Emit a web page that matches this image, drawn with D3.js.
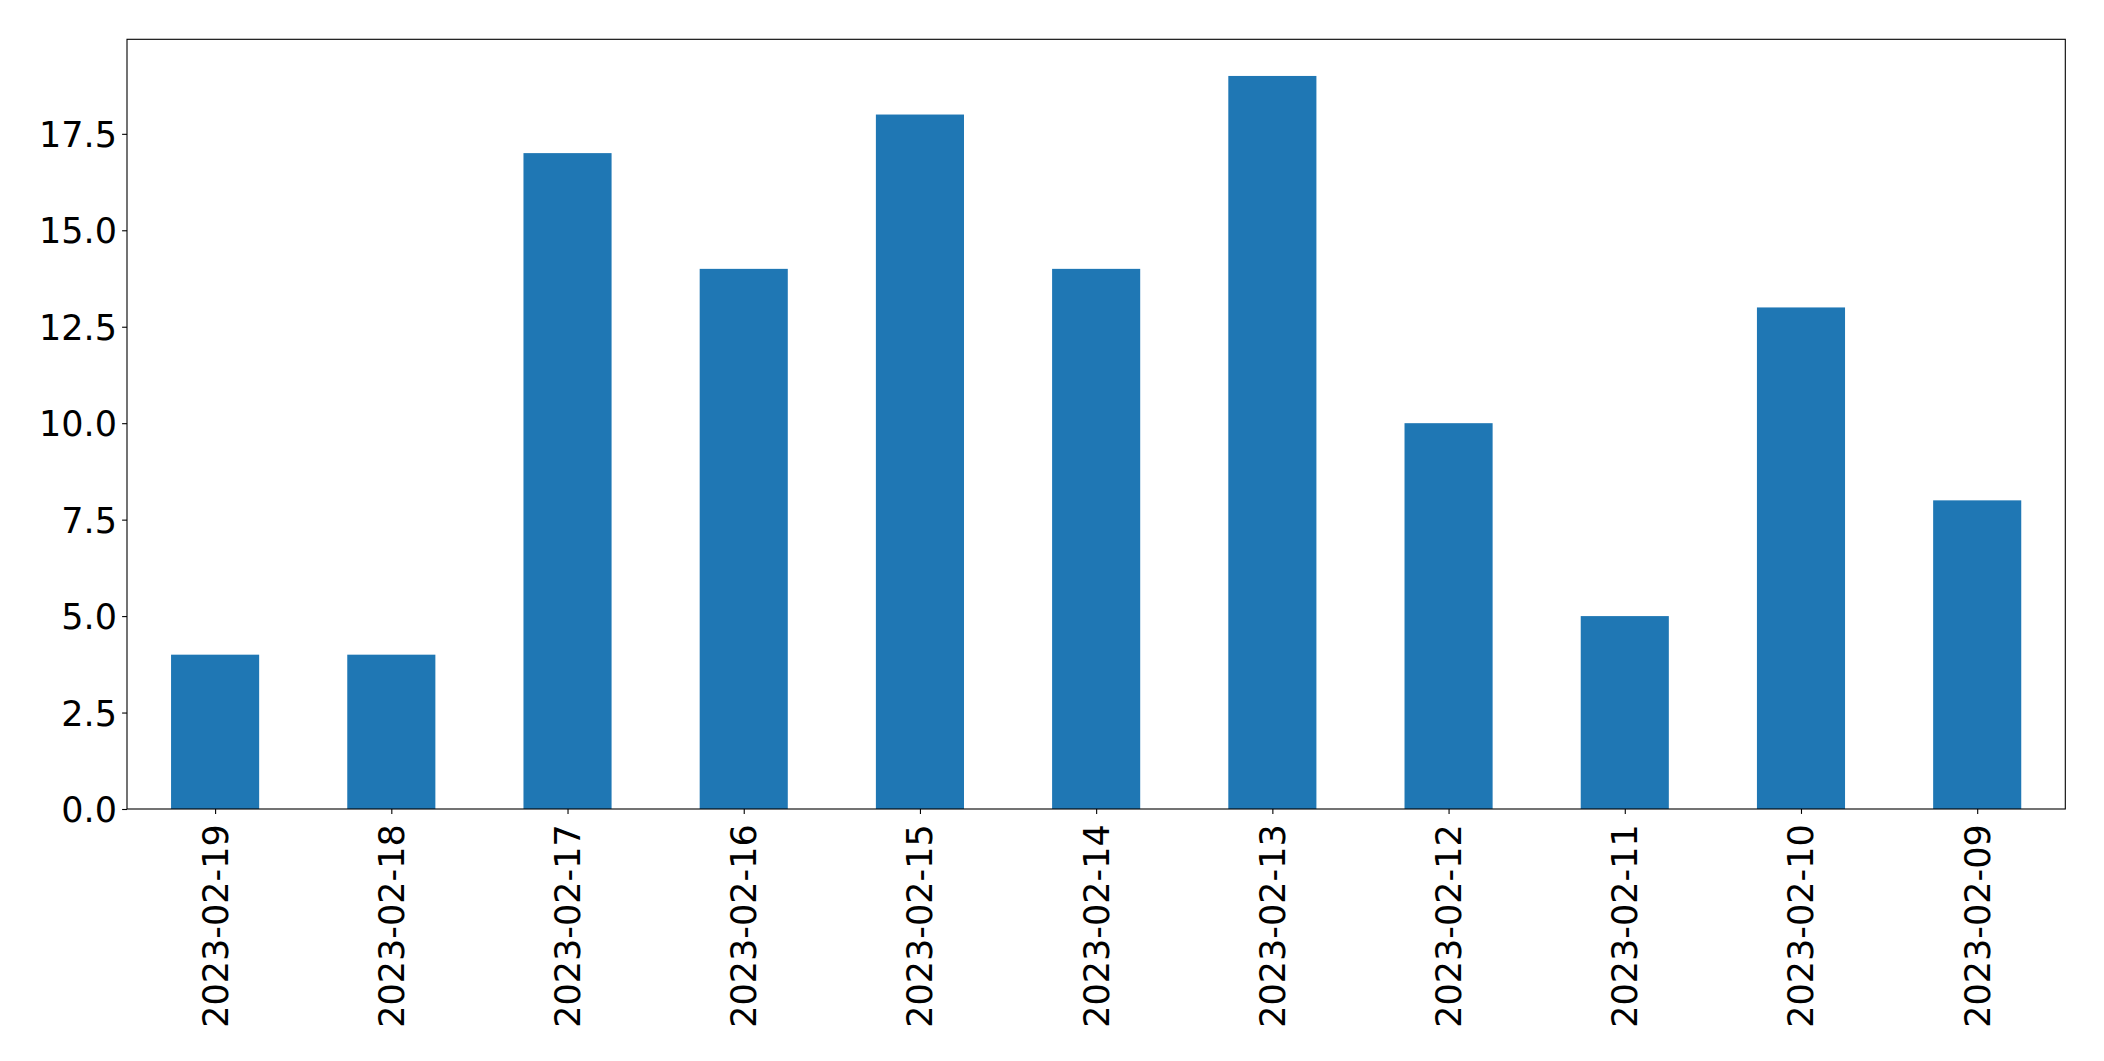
<!DOCTYPE html>
<html><head><meta charset="utf-8">
<script src="https://cdn.jsdelivr.net/npm/d3@7"></script>
<style>html,body{margin:0;padding:0;background:#fff;}svg{display:block;}</style>
</head><body>
<script>
const categories = ["2023-02-19","2023-02-18","2023-02-17","2023-02-16","2023-02-15","2023-02-14","2023-02-13","2023-02-12","2023-02-11","2023-02-10","2023-02-09"];
const values = [4,4,17,14,18,14,19,10,5,13,8];
const yTicks = [0,2.5,5,7.5,10,12.5,15,17.5];

const W = 2104, H = 1061;
const L = 127, R = 2065.3, T = 39.3, B = 809;
const fontSize = 35;

const svg = d3.select("body").append("svg").attr("width", W).attr("height", H);

const x = d3.scaleLinear().domain([-0.5, categories.length - 0.5]).range([L, R]);
const y = d3.scaleLinear().domain([0, 19.95]).range([B, T]);

svg.append("g").selectAll("rect").data(values).join("rect")
  .attr("x", (d,i) => x(i - 0.25))
  .attr("width", (d,i) => x(i + 0.25) - x(i - 0.25))
  .attr("y", d => y(d))
  .attr("height", d => y(0) - y(d))
  .attr("fill", "#1f77b4");

// frame
svg.append("rect").attr("x", L).attr("y", T).attr("width", R - L).attr("height", B - T)
  .attr("fill", "none").attr("stroke", "#000").attr("stroke-width", 1.1);

// y axis
const yAxis = d3.axisLeft(y).tickValues(yTicks).tickFormat(d3.format(".1f")).tickSize(4.9).tickPadding(5.1);
const gy = svg.append("g").attr("transform", `translate(${L},0)`).call(yAxis);
gy.select(".domain").remove();
gy.selectAll(".tick line").attr("stroke", "#000").attr("stroke-width", 1.1);
gy.selectAll(".tick text").attr("font-family", "DejaVu Sans").attr("font-size", fontSize).attr("fill", "#000").attr("dy", "0.36em");

// x axis
const xAxis = d3.axisBottom(x).tickValues(d3.range(categories.length)).tickFormat(i => categories[i]).tickSize(4.9).tickPadding(0);
const gx = svg.append("g").attr("transform", `translate(0,${B})`).call(xAxis);
gx.select(".domain").remove();
gx.selectAll(".tick line").attr("stroke", "#000").attr("stroke-width", 1.1);
gx.selectAll(".tick text")
  .attr("font-family", "DejaVu Sans").attr("font-size", fontSize).attr("fill", "#000")
  .attr("text-anchor", "end").attr("dy", null).attr("y", null)
  .attr("transform", "translate(0,15.3) rotate(-90)")
  .attr("dominant-baseline", "central");
</script>
</body></html>
